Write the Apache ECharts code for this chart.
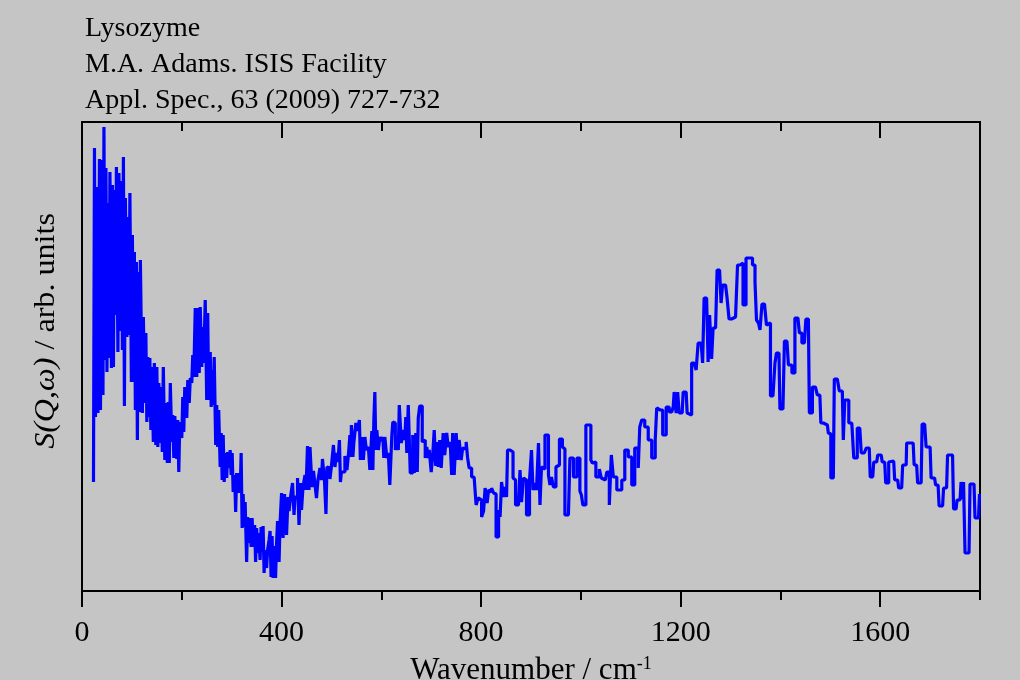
<!DOCTYPE html>
<html>
<head>
<meta charset="utf-8">
<title>Lysozyme</title>
<script src="https://cdn.jsdelivr.net/npm/echarts@6/dist/echarts.min.js"></script>
<style>
	html, body { margin: 0; padding: 0; background: #c5c5c5; }
	#chart { width: 1020px; height: 680px; }
</style>
</head>
<body>
<div id="chart"></div>
<script>
// [wavenumber in cm-1, S(Q,w) in arb. units]
var lowBand = [[23,109],[25,443],[27,174],[30,404],[32,178],[35,432],[37,181],[40,431],[42,196],[44,464],[46,231],[48,423],[50,219],[52,388],[54,233],[56,419],[59,223],[61,406],[63,224],[65,401],[67,276],[69,424],[72,239],[74,418],[77,260],[79,410],[81,241],[83,434],[85,185],[87,393],[90,254],[92,374],[94,256],[96,398],[99,209],[101,356],[103,209],[105,339],[107,181],[109,329],[111,151],[113,319],[115,179],[117,331],[121,178],[123,274],[126,188],[128,258],[130,169],[132,234],[134,174],[136,233],[138,161],[140,224],[143,149],[145,228],[148,146],[150,224],[152,144],[154,208],[156,148],[158,204],[161,139],[163,224],[166,131],[168,188],[171,128],[173,189],[175,128],[177,208],[180,149],[182,176],[184,133],[186,175],[190,132],[192,171],[194,119],[196,169],[200,153],[202,194],[204,159],[206,204],[210,173],[212,211],[215,188],[217,213],[220,208],[222,236],[224,214],[227,283],[230,214],[232,283],[235,218],[237,284],[240,224],[242,264],[244,228],[247,291],[250,191],[252,278],[254,191],[257,239],[259,184],[261,221],[263,186],[265,234],[268,146],[270,186],[272,144],[274,181],[277,124],[279,158],[281,111],[283,156],[285,109],[288,138],[290,113],[292,139],[295,123],[297,141],[299,116],[301,138],[303,99],[306,116],[308,79],[310,118],[312,98],[314,118],[317,98],[319,138],[321,63],[323,97],[325,64],[327,89],[330,29],[332,74],[335,48],[337,73],[339,44],[341,73],[343,44],[346,66],[348,29],[350,63],[352,38],[354,58],[357,31],[359,64],[361,41],[363,65],[365,18],[367,41],[370,23],[372,41],[375,51]];

var midBand = [[377,60],[379,14],[381,55],[383,13],[386,45],[388,13],[390,48],[392,70],[395,29],[397,68],[400,98],[403,53],[406,97],[410,56],[413,94],[415,80],[418,94],[422,108],[425,76],[427,94],[432,113],[435,66],[438,108],[440,81],[443,104],[447,116],[449,101],[452,145],[455,101],[457,144],[461,104],[464,120],[466,111],[470,93],[473,111],[477,123],[480,111],[482,132],[486,111],[489,77],[491,124],[494,123],[497,112],[500,125],[502,124],[504,146],[507,124],[510,138],[513,129],[516,151],[518,109],[520,119],[524,119],[527,135],[531,121],[534,136],[537,156],[539,134],[540,166],[543,134],[545,149],[549,168],[552,160],[556,171],[558,131],[561,154],[564,131],[567,154],[570,141],[574,144],[577,121],[581,160],[583,121],[585,171],[587,199],[589,141],[591,161],[594,141],[597,154],[600,150],[603,154],[605,133],[607,154],[611,133],[614,138],[617,106],[621,155],[623,169],[625,168],[628,141],[631,154],[634,141],[636,186],[640,148],[644,161],[647,151],[649,174],[651,138],[654,186],[658,118],[663,156],[666,118],[669,158],[672,119],[674,173],[677,185],[679,185],[682,149],[685,151],[688,133],[691,144],[694,133],[696,141],[700,119],[703,136],[706,161],[709,125],[711,149],[714,124],[717,151],[720,123],[724,158],[727,136],[731,158],[734,144],[738,149],[741,116],[743,158],[746,116],[750,158],[753,131],[756,151],[760,131],[763,143],[766,142],[770,149],[773,133],[776,123],[781,114],[786,114],[790,86],[794,93]];

var valleyBand = [[798,91],[801,74],[805,80],[808,103],[812,88],[815,101],[818,99],[821,103],[825,98],[828,97],[830,54],[833,54],[835,81],[838,74],[841,109],[845,94],[848,104],[851,94],[853,141],[858,141],[861,139],[864,113],[867,111],[869,86],[871,86],[875,89],[878,121],[881,89],[885,113],[888,111],[891,76],[894,76],[897,111],[901,141],[904,101],[908,108],[911,101],[915,148],[918,86],[921,124],[925,122],[928,156],[931,156],[935,116],[938,106],[941,114],[945,104],[950,124],[953,126],[957,152],[960,152],[963,144],[966,142],[968,76],[972,76],[975,78],[978,133],[981,133],[985,114],[988,114],[992,133],[995,133],[998,100],[1001,96],[1004,86],[1007,86],[1010,166],[1015,166],[1020,131],[1023,128],[1025,129],[1030,114],[1034,114],[1037,122],[1041,113],[1045,111],[1049,111],[1052,119],[1055,119],[1057,86],[1061,136],[1065,114],[1069,114],[1072,101],[1077,101],[1082,111],[1085,111],[1088,141],[1092,141],[1095,134],[1099,134],[1102,106],[1105,106],[1108,143],[1112,143],[1115,123],[1118,164],[1122,171],[1125,171],[1128,164],[1132,164],[1135,151],[1139,151],[1142,133],[1145,133],[1149,151],[1152,183],[1156,181],[1159,181],[1164,156],[1168,156],[1171,184],[1174,184],[1177,179],[1182,181],[1185,184],[1187,199],[1191,178],[1194,199],[1197,178]];

var peakBand = [[1199,178],[1203,176],[1205,199],[1211,199],[1213,178],[1217,176],[1222,228],[1227,226],[1231,221],[1235,248],[1241,248],[1244,228],[1247,293],[1252,293],[1255,229],[1258,276],[1261,276],[1262,232],[1265,263],[1270,263],[1273,321],[1278,321],[1281,288],[1284,306],[1290,306],[1293,293],[1297,272],[1302,272],[1306,274],[1310,274],[1314,326],[1319,327],[1323,328],[1325,286],[1328,286],[1331,333],[1338,333],[1344,326],[1349,309],[1352,271],[1356,268],[1359,261],[1363,287],[1368,287],[1372,266],[1376,268],[1380,195],[1385,195],[1389,228],[1392,238],[1397,238],[1399,182],[1405,182],[1408,250],[1413,250],[1416,226],[1420,226],[1423,218],[1427,218],[1429,273],[1435,273],[1438,258],[1443,248],[1448,248],[1451,272],[1456,272],[1458,178],[1461,178],[1464,204],[1470,204],[1474,196],[1479,196],[1481,168],[1486,168],[1490,166],[1494,166],[1496,158],[1499,157],[1501,113],[1506,113]];

var tailBand = [[1508,212],[1514,211],[1518,200],[1524,200],[1526,151],[1529,191],[1533,191],[1537,168],[1543,166],[1547,133],[1551,133],[1554,163],[1559,163],[1562,138],[1568,138],[1572,143],[1578,143],[1580,114],[1585,114],[1587,129],[1593,129],[1595,136],[1602,136],[1604,129],[1609,129],[1611,108],[1615,108],[1617,129],[1621,130],[1627,130],[1629,111],[1635,111],[1637,103],[1643,103],[1645,126],[1652,126],[1653,148],[1666,148],[1668,126],[1673,126],[1675,108],[1682,108],[1684,167],[1689,167],[1692,144],[1700,144],[1702,113],[1709,113],[1711,106],[1716,106],[1718,85],[1725,85],[1727,103],[1733,103],[1735,136],[1745,136],[1747,82],[1752,82],[1754,91],[1760,91],[1762,109],[1765,92],[1767,109],[1770,38],[1778,38],[1780,107],[1788,107],[1790,73],[1797,73],[1799,97]];

var majorTicks = [0, 400, 800, 1200, 1600];
var minorTicks = [200, 600, 1000, 1400, 1800];
var titleLines = ['Lysozyme', 'M.A. Adams. ISIS Facility', 'Appl. Spec., 63 (2009) 727-732'];

var spectrum = [].concat(lowBand, midBand, valleyBand, peakBand, tailBand);

var serif = "'Liberation Serif', 'DejaVu Serif', serif";
var black = '#000';

var chart = echarts.init(document.getElementById('chart'));

function tickAxis(position, values, length, inside, labels) {
	return {
		type: 'value',
		position: position,
		min: 0,
		max: 1800,
		axisLine: { show: false },
		splitLine: { show: false },
		axisTick: {
			show: true,
			inside: inside,
			length: length,
			customValues: values,
			lineStyle: { color: black, width: 2 }
		},
		axisLabel: labels ? {
			show: true,
			customValues: values,
			margin: 27,
			color: black,
			fontSize: 30,
			fontFamily: serif,
			formatter: function (v) { return String(v); }
		} : { show: false }
	};
}

var bottomAxis = tickAxis('bottom', majorTicks, 16, false, true);
bottomAxis.name = 'Wavenumber / cm{sup|-1}';
bottomAxis.nameLocation = 'middle';
bottomAxis.nameGap = 64;
bottomAxis.nameTextStyle = {
	color: black,
	fontSize: 31,
	fontFamily: serif,
	rich: {
		sup: { fontSize: 18, fontFamily: serif, color: black, verticalAlign: 'top', padding: [0, 0, 12, 0] }
	}
};

var option = {
	backgroundColor: '#c5c5c5',
	animation: false,
	title: {
		text: titleLines.join('\n'),
		left: 85,
		top: 11,
		padding: 0,
		textStyle: {
			color: black,
			fontSize: 28,
			fontWeight: 'normal',
			fontFamily: serif,
			lineHeight: 36
		}
	},
	grid: {
		left: 82,
		right: 40,
		top: 122,
		bottom: 89,
		outerBoundsMode: 'none',
		show: true,
		borderColor: black,
		borderWidth: 2,
		backgroundColor: 'transparent'
	},
	xAxis: [
		bottomAxis,
		tickAxis('bottom', minorTicks, 9, false, false),
		tickAxis('top', majorTicks, 16, true, false),
		tickAxis('top', minorTicks, 9, true, false)
	],
	yAxis: {
		type: 'value',
		min: 0,
		max: 469,
		axisLine: { show: false },
		axisTick: { show: false },
		axisLabel: { show: false },
		splitLine: { show: false }
	},
	graphic: [{
		type: 'text',
		x: 46,
		y: 331,
		rotation: Math.PI / 2,
		scaleX: 1.07,
		style: {
			text: '{i|S(Q,ω)} / arb. units',
			align: 'center',
			verticalAlign: 'middle',
			fill: black,
			fontSize: 30,
			fontFamily: serif,
			rich: {
				i: { fontStyle: 'italic', fontSize: 30, fontFamily: serif, fill: black }
			}
		}
	}],
	series: [{
		type: 'line',
		xAxisIndex: 0,
		step: 'end',
		showSymbol: false,
		silent: true,
		data: spectrum,
		lineStyle: { color: '#0000ff', width: 3.2 }
	}]
};

chart.setOption(option);
</script>
</body>
</html>
